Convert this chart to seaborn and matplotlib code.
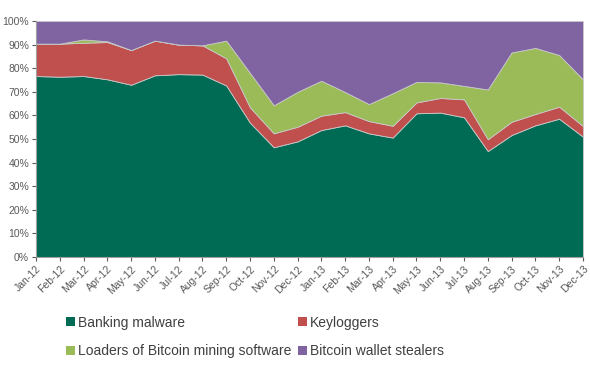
import matplotlib
matplotlib.use("Agg")
import matplotlib.pyplot as plt
import seaborn as sns
import numpy as np
import pandas as pd
from matplotlib.ticker import FuncFormatter
from matplotlib.patches import Patch

months = ["Jan-12", "Feb-12", "Mar-12", "Apr-12", "May-12", "Jun-12", "Jul-12", "Aug-12",
          "Sep-12", "Oct-12", "Nov-12", "Dec-12", "Jan-13", "Feb-13", "Mar-13", "Apr-13",
          "May-13", "Jun-13", "Jul-13", "Aug-13", "Sep-13", "Oct-13", "Nov-13", "Dec-13"]
banking = [76.7, 76.4, 76.7, 75.3, 73.0, 77.0, 77.5, 77.3, 72.7, 56.9, 46.5, 49.0,
           53.8, 55.8, 52.4, 50.6, 60.9, 61.2, 59.2, 44.9, 51.7, 55.8, 58.6, 51.0]
keyloggers = [13.7, 14.0, 14.1, 15.8, 14.7, 14.7, 12.5, 12.4, 11.5, 6.5, 5.9, 6.2,
              6.1, 5.6, 5.2, 5.0, 4.6, 6.2, 7.6, 5.0, 5.6, 4.8, 5.1, 4.5]
loaders = [0.0, 0.0, 1.4, 0.3, 0.0, 0.0, 0.0, 0.0, 7.5, 14.6, 11.9, 14.8,
           14.8, 8.5, 7.2, 13.8, 8.7, 6.6, 5.7, 21.1, 29.4, 28.0, 21.9, 19.8]
stealers = [9.6, 9.6, 7.8, 8.6, 12.3, 8.3, 10.0, 10.3, 8.3, 22.0, 35.7, 30.0,
            25.3, 30.1, 35.2, 30.6, 25.8, 26.0, 27.5, 29.0, 13.3, 11.4, 14.4, 24.7]
series_names = ["Banking malware", "Keyloggers",
                "Loaders of Bitcoin mining software", "Bitcoin wallet stealers"]

sns.set_style("white")
plt.rcParams['font.family'] = ['Liberation Sans', 'DejaVu Sans']

colors = sns.color_palette(["#006B54", "#C0504D", "#9BBB59", "#8064A2"])
df = pd.DataFrame({"month": months, series_names[0]: banking, series_names[1]: keyloggers,
                   series_names[2]: loaders, series_names[3]: stealers})

fig = plt.figure(figsize=(5.9, 3.69), dpi=100)
ax = fig.add_axes([0.061, 0.3035, 0.927, 0.6395])
x = np.arange(len(months))
ax.stackplot(x, *[df[n].values for n in series_names], colors=colors,
             edgecolor="#C8C8C8", linewidth=0.6)

ax.set_xlim(0, len(months) - 1)
ax.set_ylim(0, 100)
ax.set_yticks(np.arange(0, 101, 10))
ax.yaxis.set_major_formatter(FuncFormatter(lambda v, p: f"{int(v)}%"))
ax.set_xticks(x)
ax.set_xticklabels(months, rotation=45, ha="right", rotation_mode="anchor")
ax.tick_params(axis="both", labelsize=7.5, colors="#595959", length=3, width=0.8,
               direction="out", left=True, bottom=True, pad=2)
for s in ["top", "right"]:
    ax.spines[s].set_visible(False)
for s in ["left", "bottom"]:
    ax.spines[s].set_color("#A0A0A0")
    ax.spines[s].set_linewidth(0.8)

order = [0, 2, 1, 3]
handles = [Patch(facecolor=colors[i], edgecolor="none") for i in order]
labels = [series_names[i] for i in order]
fig.legend(handles, labels, loc="upper left", bbox_to_anchor=(0.103, 0.16),
           ncol=2, frameon=False, fontsize=10, handlelength=0.65, handleheight=0.65,
           handletextpad=0.2, columnspacing=0.45, labelspacing=1.05, borderaxespad=0,
           labelcolor="#404040")

fig.savefig("out.png", dpi=100)
